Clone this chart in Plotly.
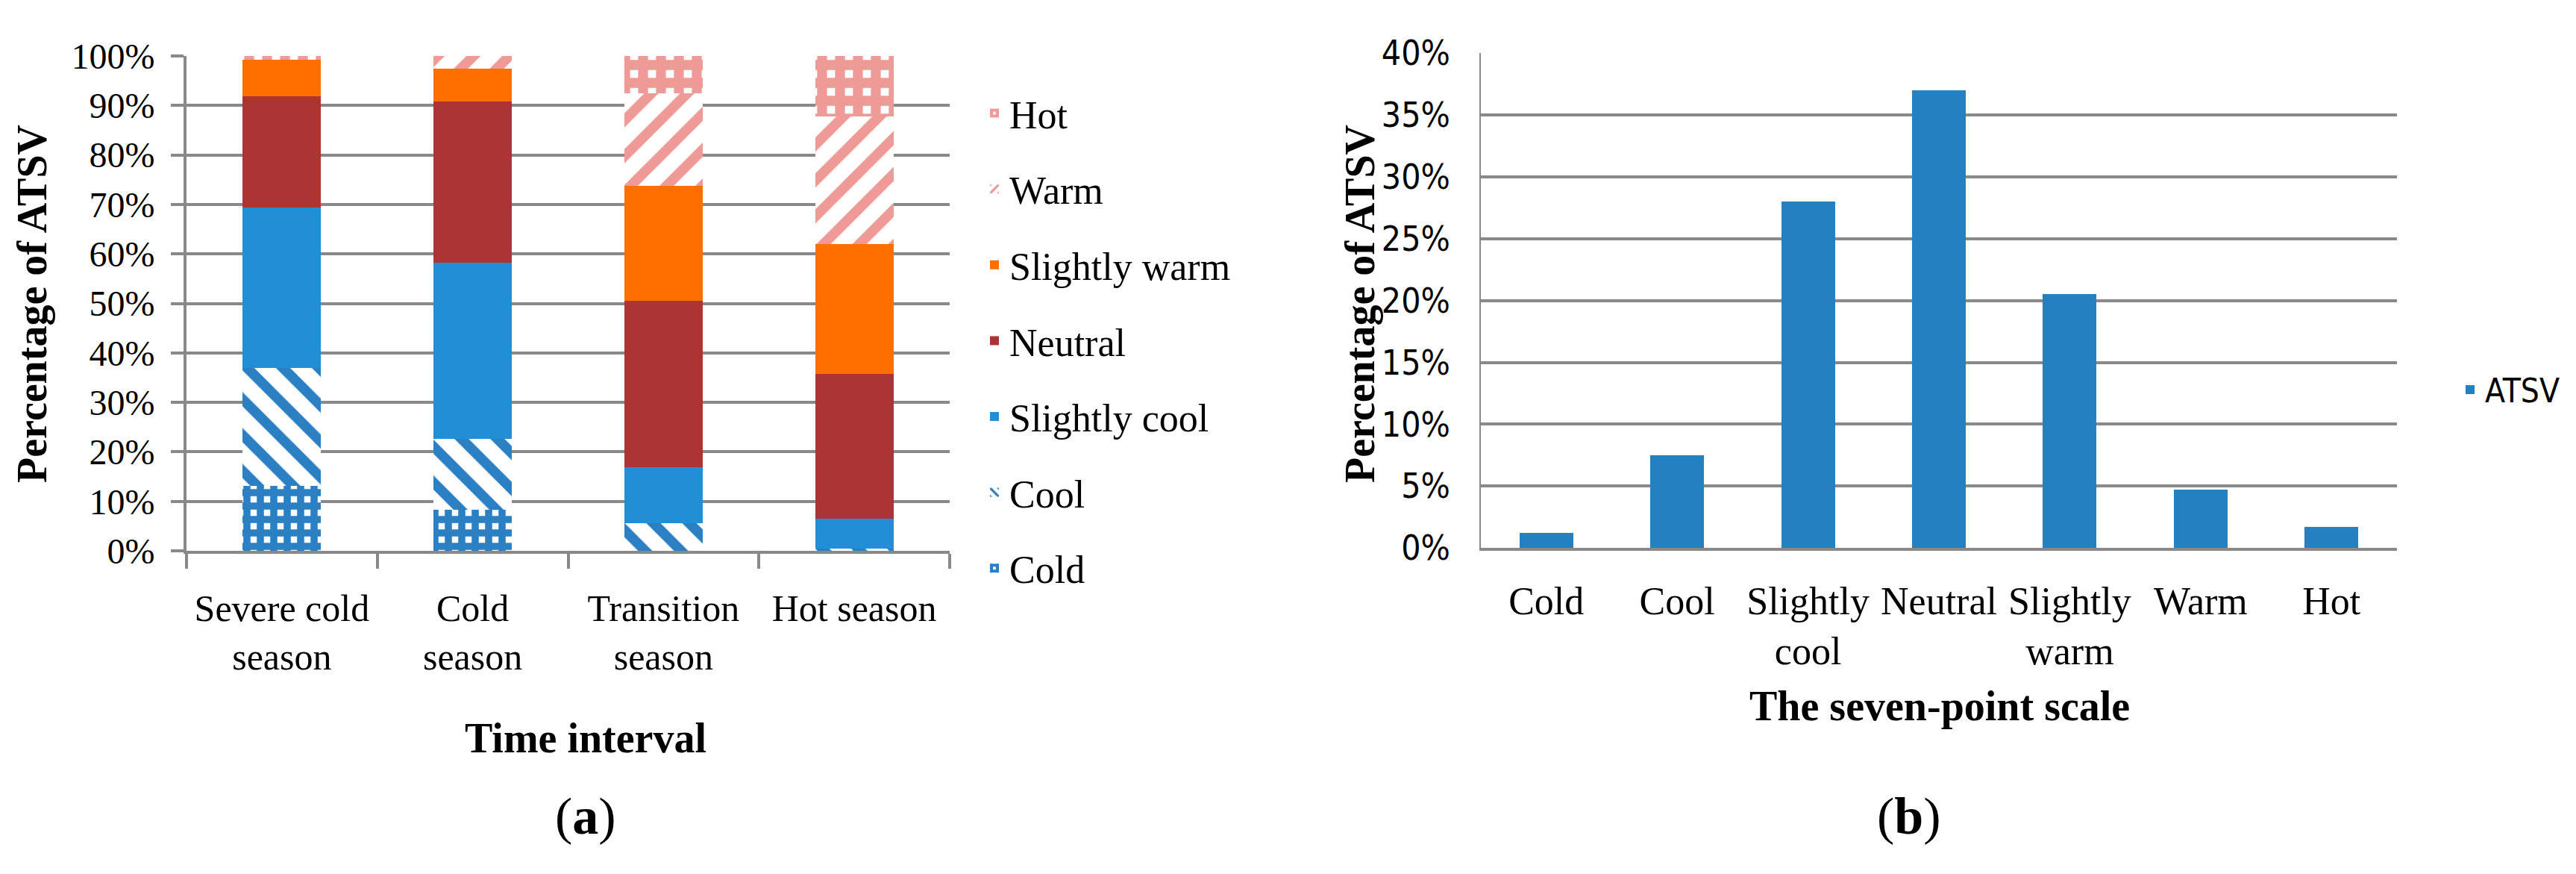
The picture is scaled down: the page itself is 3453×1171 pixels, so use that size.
import plotly.graph_objects as go

# panel (a): share of each ATSV vote per season, in %
seasons = ["Severe cold<br>season", "Cold<br>season", "Transition<br>season", "Hot season"]
cold = [13.1, 8.3, 0.0, 0.0]
cool = [23.8, 14.3, 5.6, 0.5]
slightly_cool = [32.5, 35.6, 11.3, 6.0]
neutral = [22.4, 32.6, 33.6, 29.2]
slightly_warm = [7.5, 6.6, 23.3, 26.3]
warm = [0.0, 2.6, 18.6, 25.8]
hot = [0.7, 0.0, 7.6, 12.2]

# panel (b): overall share on the seven-point scale, in %
scale_labels = ["Cold", "Cool", "Slightly<br>cool", "Neutral", "Slightly<br>warm", "Warm", "Hot"]
atsv = [1.2, 7.5, 28.0, 37.0, 20.5, 4.7, 1.7]

W, H = 3453, 1171
SERIF = "Liberation Serif, Times New Roman, serif"
SANS = "Liberation Sans Narrow, DejaVu Sans Condensed, Arial Narrow, sans-serif"
GRID = "#898989"

BLUE_P = "#2A80C2"
PINK = "#EE9A96"

fig = go.Figure()

stack = [
    ("Cold", cold, dict(color=BLUE_P, pattern=dict(shape="+", fgcolor=BLUE_P, bgcolor="white", size=18, solidity=0.78, fillmode="replace"))),
    ("Cool", cool, dict(color=BLUE_P, pattern=dict(shape="\\", fgcolor=BLUE_P, bgcolor="white", size=34, solidity=0.4, fillmode="replace"))),
    ("Slightly cool", slightly_cool, dict(color="#218ED6")),
    ("Neutral", neutral, dict(color="#AD3434")),
    ("Slightly warm", slightly_warm, dict(color="#FF6F00")),
    ("Warm", warm, dict(color=PINK, pattern=dict(shape="/", fgcolor=PINK, bgcolor="white", size=34, solidity=0.4, fillmode="replace"))),
    ("Hot", hot, dict(color=PINK, pattern=dict(shape="+", fgcolor=PINK, bgcolor="white", size=24, solidity=0.8, fillmode="replace"))),
]
for i, (name, vals, mk) in enumerate(stack):
    fig.add_trace(go.Bar(x=seasons, y=vals, name=name, marker=dict(line_width=0, **mk),
                         legendgroup=name, legendrank=len(stack) - i,
                         legend="legend", xaxis="x", yaxis="y"))

fig.add_trace(go.Bar(x=scale_labels, y=atsv, name="ATSV", marker=dict(color="#2580BF", line_width=0),
                     legend="legend2", xaxis="x2", yaxis="y2"))

fig.update_layout(
    width=W, height=H,
    margin=dict(l=0, r=0, t=0, b=0),
    paper_bgcolor="white", plot_bgcolor="white",
    barmode="stack", bargap=0.59,
    font=dict(family=SERIF, size=52, color="black"),
    showlegend=True,
    xaxis=dict(domain=[242 / W, 1265 / W], anchor="y", showgrid=False,
               showline=True, linecolor=GRID, linewidth=4,
               ticks="outside", tickson="boundaries", ticklen=20, tickwidth=4, tickcolor=GRID,
               ticklabelstandoff=30, tickfont=dict(family=SERIF, size=50)),
    yaxis=dict(domain=[1 - 737 / H, 1 - 42 / H], anchor="x", range=[0, 100], dtick=10,
               ticksuffix="%", showgrid=True, gridcolor=GRID, gridwidth=4,
               showline=True, linecolor=GRID, linewidth=4,
               ticks="outside", ticklen=17, tickwidth=4, tickcolor=GRID,
               ticklabelstandoff=12, tickfont=dict(family=SERIF, size=48), zeroline=False),
    xaxis2=dict(domain=[1977 / W, 3205 / W], anchor="y2", showgrid=False,
                showline=True, linecolor=GRID, linewidth=4, ticks="",
                ticklabelstandoff=22, tickfont=dict(family=SERIF, size=52)),
    yaxis2=dict(domain=[1 - 733 / H, 1 - 38 / H], anchor="x2", range=[0, 40], dtick=5,
                ticksuffix="%", showgrid=True, gridcolor=GRID, gridwidth=4,
                showline=True, linecolor=GRID, linewidth=2, ticks="",
                ticklabelstandoff=30, tickfont=dict(family=SANS, size=46), zeroline=False),
    legend=dict(x=1305 / W, y=1 - 80 / H, xanchor="left", yanchor="top",
                traceorder="grouped", tracegroupgap=31,
                font=dict(family=SERIF, size=52), bgcolor="rgba(0,0,0,0)"),
    legend2=dict(x=3283 / W, y=1 - 511 / H, xanchor="left", yanchor="middle",
                 font=dict(family=SANS, size=44), bgcolor="rgba(0,0,0,0)"),
)

ann = [
    ("Percentage of ATSV", 35, 390, -90),
    ("Percentage of ATSV", 1815, 390, -90),
    ("Time interval", 777, 1000, 0),
    ("The seven-point scale", 2592, 955, 0),
]
for text, ax, ay, ang in ann:
    fig.add_annotation(text=f"<b>{text}</b>", x=ax / W, y=1 - ay / H,
                       xref="paper", yref="paper", showarrow=False, textangle=ang,
                       xanchor="center", yanchor="middle", font=dict(family=SERIF, size=56))
for text, ax in [("(<b>a</b>)", 777), ("(<b>b</b>)", 2551)]:
    fig.add_annotation(text=text, x=ax / W, y=1 - 1110 / H, xref="paper", yref="paper",
                       showarrow=False, xanchor="center", yanchor="middle",
                       font=dict(family=SERIF, size=70))

fig.write_html("out.html")
